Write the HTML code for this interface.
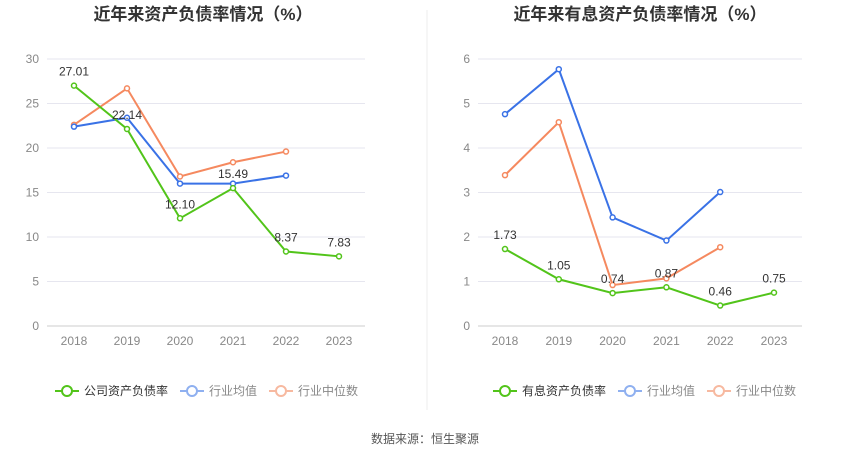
<!DOCTYPE html>
<html><head><meta charset="utf-8"><style>
body{margin:0;background:#fff;font-family:"Liberation Sans","Noto Sans CJK SC",sans-serif;}
svg text{font-family:"Liberation Sans","Noto Sans CJK SC",sans-serif;}
</style></head><body>
<svg id="c" width="850" height="459"></svg>
<script>
const years=["2018","2019","2020","2021","2022","2023"];
const leftCompany=[27.01,22.14,12.10,15.49,8.37,7.83];
const leftAvg=[22.4,23.4,16.0,16.0,16.9];
const leftMed=[22.6,26.7,16.8,18.4,19.6];
const leftTicks=[0,5,10,15,20,25,30];
const rightCompany=[1.73,1.05,0.74,0.87,0.46,0.75];
const rightAvg=[4.76,5.77,2.44,1.92,3.01];
const rightMed=[3.39,4.58,0.92,1.07,1.77];
const rightTicks=[0,1,2,3,4,5,6];
const NS="http://www.w3.org/2000/svg";
const svg=document.getElementById('c');
function el(t,a,txt){const e=document.createElementNS(NS,t);for(const k in a)e.setAttribute(k,a[k]);if(txt!==undefined)e.textContent=txt;svg.appendChild(e);return e;}
function panel(p){
  const x=i=>p.x0+p.step*i, y=v=>326-(v/p.max)*267;
  const t=el('text',{x:p.cx,y:20,'text-anchor':'middle','font-size':17,'font-weight':'bold',fill:'#333'},p.title);
  
  p.ticks.forEach(v=>{
    const g=el('line',{x1:p.l,x2:p.r,y1:y(v),y2:y(v),stroke:v===0?'#ccc':'#e6e6ef','stroke-width':1});
    
    const tl=el('text',{x:p.l-8,y:y(v)+4,'text-anchor':'end','font-size':12,fill:'#888'},v);
    
  });
  years.forEach((yr,i)=>{
    const tl=el('text',{x:x(i),y:345,'text-anchor':'middle','font-size':12,fill:'#888'},yr);
    
  });
  const series=[[p.med,'#f5895f','industry-median'],[p.avg,'#3a72e6','industry-average'],[p.comp,'#52c41a','company']];
  series.forEach(([d,c,n])=>{
    const pl=el('polyline',{points:d.map((v,i)=>x(i)+','+y(v)).join(' '),fill:'none',stroke:c,'stroke-width':2});
    
    d.forEach((v,i)=>{const ci=el('circle',{cx:x(i),cy:y(v),r:2.5,fill:'#fff',stroke:c,'stroke-width':1.5});
      });
  });
  p.comp.forEach((v,i)=>{const tl=el('text',{x:x(i),y:y(v)-10,'text-anchor':'middle','font-size':12,fill:'#333'},v.toFixed(2));
    });
  const leg=[[p.legend0,'#52c41a','#333'],['行业均值','#8fb0f0','#888'],['行业中位数','#f7b9a0','#888']];
  let lx=p.legX;
  leg.forEach(([txt,c,tc])=>{
    const ln=el('line',{x1:lx,x2:lx+24,y1:391,y2:391,stroke:c,'stroke-width':2});
    
    const ci=el('circle',{cx:lx+12,cy:391,r:5,fill:'#fff',stroke:c,'stroke-width':2});
    
    const tt=el('text',{x:lx+29,y:395,'font-size':12,fill:tc},txt);
    
    lx+=29+txt.length*12+12;
  });
}
panel({key:'left',title:'近年来资产负债率情况（%）',cx:203,x0:74,step:53,max:30,l:47,r:365,ticks:leftTicks,comp:leftCompany,avg:leftAvg,med:leftMed,legend0:'公司资产负债率',legX:55});
panel({key:'right',title:'近年来有息资产负债率情况（%）',cx:640,x0:505,step:53.8,max:6,l:478,r:802,ticks:rightTicks,comp:rightCompany,avg:rightAvg,med:rightMed,legend0:'有息资产负债率',legX:493});
const d=el('line',{x1:427,x2:427,y1:10,y2:410,stroke:'#eee','stroke-width':1});

const s=el('text',{x:425,y:443,'text-anchor':'middle','font-size':12,fill:'#555'},'数据来源：恒生聚源');

</script>
</body></html>
